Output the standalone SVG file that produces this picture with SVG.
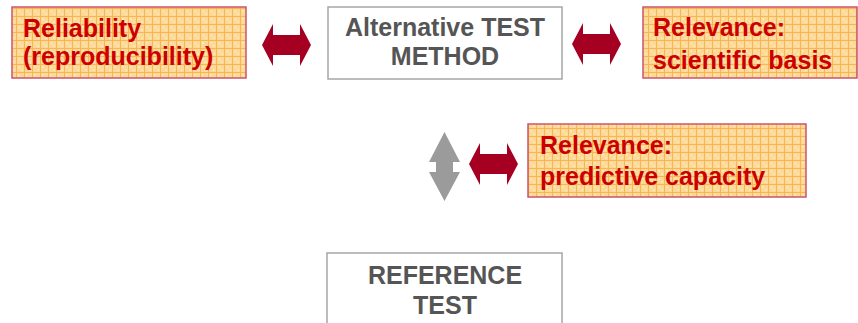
<svg xmlns="http://www.w3.org/2000/svg" width="858" height="323" viewBox="0 0 858 323">
<style>
.hl{fill:url(#grid);stroke:#c9566e;stroke-width:1.5}
.wb{fill:#fff;stroke:#a6a6a6;stroke-width:1.5}
.rt{font-family:"Liberation Sans",Arial,sans-serif;font-weight:bold;font-size:25px;fill:#cc0000}
.gt{font-family:"Liberation Sans",Arial,sans-serif;font-weight:bold;font-size:25px;fill:#555555;text-anchor:middle}
.ra{fill:#a50021}
.ga{fill:#9b9b9b}
</style>
<defs>
<pattern id="grid" width="8" height="8" patternUnits="userSpaceOnUse">
<rect width="8" height="8" fill="#fdd995"/>
<rect x="2" y="2" width="2" height="2" fill="#fce4b8"/>
<rect x="5" y="5" width="2" height="2" fill="#fce4b8"/>
<path d="M0 0.5H8M0.5 0V8" stroke="#f7b553" stroke-width="1"/>
</pattern>
</defs>
<g id="reliability">
<rect class="hl" x="12" y="7" width="234" height="71"/>
<text class="rt" x="23" y="37">Reliability</text>
<text class="rt" x="23" y="65">(reproducibility)</text>
</g>
<g id="alternative">
<rect class="wb" x="328" y="7" width="234" height="72"/>
<text class="gt" x="445" y="36">Alternative TEST</text>
<text class="gt" x="445" y="65">METHOD</text>
</g>
<g id="scientific">
<rect class="hl" x="643" y="7" width="214" height="71"/>
<text class="rt" x="653" y="36">Relevance:</text>
<text class="rt" x="653" y="69">scientific basis</text>
</g>
<g id="predictive">
<rect class="hl" x="528" y="124" width="278" height="73"/>
<text class="rt" x="540" y="154">Relevance:</text>
<text class="rt" x="540" y="185">predictive capacity</text>
</g>
<g id="reference">
<rect class="wb" x="327" y="253" width="235" height="80"/>
<text class="gt" x="445" y="284">REFERENCE</text>
<text class="gt" x="445" y="314">TEST</text>
</g>
<g id="connectors">
<polygon class="ra" points="262,45 273,24 273,35 300,35 300,24 311,45 300,66 300,55 273,55 273,66"/>
<polygon class="ra" points="572,44 583,23 583,34 610,34 610,23 621,44 610,65 610,54 583,54 583,65"/>
<polygon class="ra" points="469,164 480,143 480,154 507,154 507,143 518,164 507,185 507,174 480,174 480,185"/>
<polygon class="ga" points="444.5,132 460,162 453,162 453,172 460,172 444.5,201 429,172 436,172 436,162 429,162"/>
</g>
</svg>
